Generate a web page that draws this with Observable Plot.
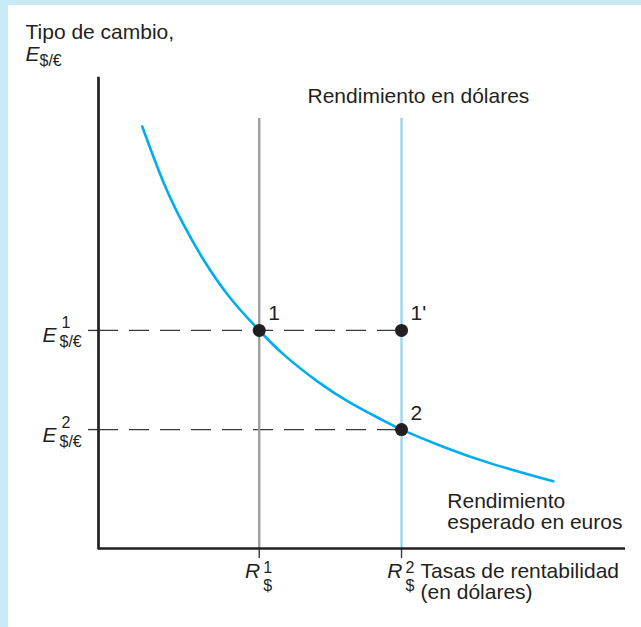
<!DOCTYPE html>
<html>
<head>
<meta charset="utf-8">
<script src="https://cdn.jsdelivr.net/npm/d3@7"></script>
<script src="https://cdn.jsdelivr.net/npm/@observablehq/plot@0.6"></script>
<style>
  html, body { margin: 0; padding: 0; background: #c8eaf8; }
  #frame { width: 641px; height: 627px; box-sizing: border-box; padding: 5px 0 0 8px; background: #c8eaf8; overflow: hidden; }
  #chart svg { display: block; }
</style>
</head>
<body>
<div id="frame"><div id="chart"></div></div>
<script>
// --- data (abstract units) ---
const rateValues = [3.05, 5.75];          // R¹$, R²$
const rateSup = ["1", "2"];
const exchValues = [4.64, 2.53];          // E¹$/€, E²$/€
const exchSup = ["1", "2"];
const lineTop = 9.15;                      // top of the vertical return lines
const curveX = [0.83, 1.23, 1.61, 1.99, 2.50, 3.05, 3.51, 4.16, 4.78, 5.41, 5.75, 6.55, 7.50, 8.63];
const curveY = [8.98, 7.80, 6.90, 6.15, 5.33, 4.64, 4.13, 3.55, 3.10, 2.72, 2.53, 2.16, 1.79, 1.43];
const pointR = [3.05, 5.75, 5.75];
const pointE = [4.64, 4.64, 2.53];
const pointLabels = ["1", "1'", "2"];

const curve = curveX.map((x, i) => ({x, y: curveY[i]}));
const points = pointR.map((r, i) => ({r, e: pointE[i], label: pointLabels[i]}));

const FS = 21, SFS = 16;
const font = "'Liberation Sans', Arial, Helvetica, sans-serif";
const ink = "#231f20";

const chart = Plot.plot({
  width: 633,
  height: 622,
  marginLeft: 90,
  marginTop: 73,
  marginRight: 16,
  marginBottom: 79,
  x: {domain: [0, 10]},
  y: {domain: [0, 10]},
  style: {background: "white", fontFamily: font, fontSize: FS + "px", color: ink, overflow: "visible"},
  marks: [
    // dashed guide lines
    Plot.ruleY(exchValues, {x1: 0, x2: rateValues[1], stroke: "#3a3a3a", strokeWidth: 1.4, strokeDasharray: "20,11"}),
    // return lines
    Plot.ruleX([rateValues[0]], {y1: 0, y2: lineTop, stroke: "#9b9b9e", strokeWidth: 2.3}),
    Plot.ruleX([rateValues[1]], {y1: 0, y2: lineTop, stroke: "#93d4f1", strokeWidth: 2.3}),
    // expected euro return curve
    Plot.line(curve, {x: "x", y: "y", curve: "natural", stroke: "#00aeef", strokeWidth: 2.6}),
    // ticks
    Plot.axisY({ticks: exchValues, tickSize: 10, tickFormat: () => "", label: null, stroke: "#3a3a3a", strokeWidth: 1.4}),
    Plot.axisX({ticks: rateValues, tickSize: 10, tickFormat: () => "", label: null, stroke: "#3a3a3a", strokeWidth: 1.4}),
    // axes lines
    Plot.ruleX([0], {y1: 0, y2: 10, stroke: ink, strokeWidth: 2.7, strokeLinecap: "square"}),
    Plot.ruleY([0], {x1: 0, x2: 10, stroke: ink, strokeWidth: 2.7}),
    // equilibrium points
    Plot.dot(points, {x: "r", y: "e", r: 6.5, fill: ink, stroke: null}),
    Plot.text(points, {x: "r", y: "e", text: "label", dx: 9, dy: -10, textAnchor: "start", lineAnchor: "bottom", fontSize: FS, fill: ink}),
    // y tick labels E^n_{$/€}
    Plot.text(exchValues, {x: () => 0, y: d => d, text: () => "E", fontStyle: "italic", textAnchor: "end", lineAnchor: "bottom", dx: -42, dy: 12, fontSize: FS, fill: ink}),
    Plot.text(exchValues, {x: () => 0, y: d => d, text: (d, i) => exchSup[i], textAnchor: "start", lineAnchor: "bottom", dx: -37, dy: -2, fontSize: SFS, fill: ink}),
    Plot.text(exchValues, {x: () => 0, y: d => d, text: () => "$/€", textAnchor: "start", lineAnchor: "bottom", dx: -39, dy: 17, fontSize: SFS, fill: ink}),
    // x tick labels R^n_$
    Plot.text(rateValues, {x: d => d, y: () => 0, text: () => "R", fontStyle: "italic", textAnchor: "end", lineAnchor: "bottom", dx: 1, dy: 29, fontSize: FS, fill: ink}),
    Plot.text(rateValues, {x: d => d, y: () => 0, text: (d, i) => rateSup[i], textAnchor: "start", lineAnchor: "bottom", dx: 4, dy: 24, fontSize: SFS, fill: ink}),
    Plot.text(rateValues, {x: d => d, y: () => 0, text: () => "$", textAnchor: "start", lineAnchor: "bottom", dx: 4, dy: 42, fontSize: SFS, fill: ink}),
    // x axis title
    Plot.text(["Tasas de rentabilidad\n(en dólares)"], {x: () => rateValues[1], y: () => 0, textAnchor: "start", lineAnchor: "bottom", dx: 19, dy: 50, lineHeight: 1, fontSize: FS, fill: ink}),
    // y axis title
    Plot.text(["Tipo de cambio,"], {frameAnchor: "top-left", textAnchor: "start", lineAnchor: "bottom", dx: -73, dy: -40, fontSize: FS, fill: ink}),
    Plot.text(["E"], {frameAnchor: "top-left", textAnchor: "start", lineAnchor: "bottom", dx: -73, dy: -18, fontStyle: "italic", fontSize: FS, fill: ink}),
    Plot.text(["$/€"], {frameAnchor: "top-left", textAnchor: "start", lineAnchor: "bottom", dx: -59, dy: -13, fontSize: SFS, fill: ink}),
    // curve / line labels
    Plot.text(["Rendimiento en dólares"], {x: () => rateValues[1], y: () => lineTop, textAnchor: "start", lineAnchor: "bottom", dx: -94, dy: -15, fontSize: FS, fill: ink}),
    Plot.text(["Rendimiento\nesperado en euros"], {x: () => curveX[curveX.length - 1], y: () => curveY[curveY.length - 1], textAnchor: "start", lineAnchor: "bottom", dx: -106, dy: 48, lineHeight: 1, fontSize: FS, fill: ink})
  ]
});
document.getElementById("chart").appendChild(chart);
</script>
</body>
</html>
